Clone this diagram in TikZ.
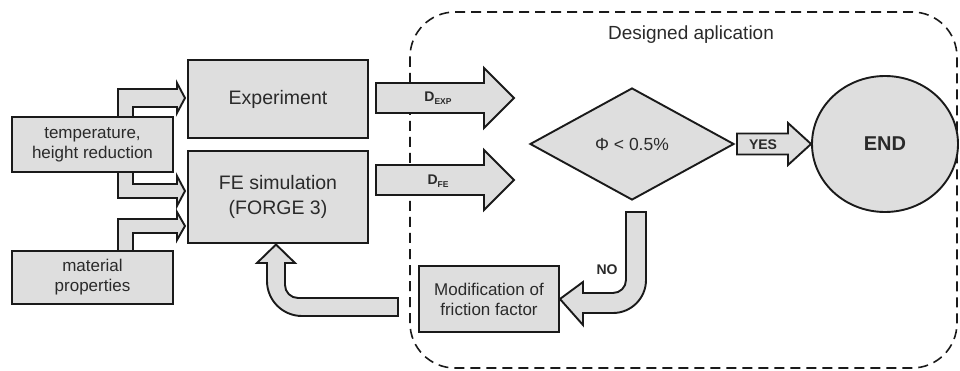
\documentclass[tikz,border=0pt]{standalone}
\usepackage{fontspec}
\setmainfont{Liberation Sans}
\usetikzlibrary{shapes.geometric}
\pgfdeclarelayer{back}
\pgfsetlayers{back,main}
\definecolor{boxgray}{HTML}{DEDEDE}
\definecolor{txtgray}{HTML}{2A2A2A}
\definecolor{linegray}{HTML}{1A1A1A}
\begin{document}
\begin{tikzpicture}[x=1pt,y=-1pt,
	every node/.style={text=txtgray,align=center,inner sep=0pt},
	box/.style={rectangle,draw=linegray,fill=boxgray,line width=1.9pt},
	decision/.style={diamond,draw=linegray,fill=boxgray,line width=1.9pt},
	endnode/.style={ellipse,draw=linegray,fill=boxgray,line width=1.9pt},
	fatarrow/.style={draw=linegray,fill=boxgray,line width=1.9pt,line join=miter},
	small/.style={font=\fontsize{17}{20}\selectfont},
	big/.style={font=\fontsize{19.5}{25}\selectfont},
	tag/.style={font=\fontsize{14}{14}\selectfont\bfseries}]
\useasboundingbox (0,0) rectangle (960,371);

% inputs
\node[box,small,minimum width=161pt,minimum height=55pt] (temp) at (92.5,144.5) {temperature,\\height reduction};
\node[box,small,minimum width=161pt,minimum height=53pt] (mat) at (92.5,277.5) {material\\properties};
% experiment and simulation
\node[box,big,minimum width=180pt,minimum height=78pt] (exp) at (278,99) {Experiment};
\node[box,big,minimum width=180pt,minimum height=92pt] (fe) at (278,197) {FE simulation\\(FORGE 3)};
% designed application
\node[font=\fontsize{19}{22}\selectfont,anchor=base] (title) at (691,40) {Designed aplication};
\node[decision,font=\fontsize{17.5}{20}\selectfont,minimum width=204pt,minimum height=112pt] (dia) at (632,144) {Φ < 0.5\%};
\node[endnode,font=\fontsize{20}{22}\selectfont\bfseries,minimum width=146pt,minimum height=136pt] (endc) at (885,144) {END};
\node[box,small,minimum width=140pt,minimum height=66pt] (mod) at (489,299) {Modification of\\friction factor};

\begin{pgfonlayer}{back}
% frame
\draw[linegray,line width=1.6pt,dash pattern=on 10pt off 6pt,rounded corners=45pt] (410,12) rectangle (957,368);
% inputs to experiment and simulation
\filldraw[fatarrow] (temp.north -| 118,0) -- (118,89) -- (177,89) -- (177,83) -- (185,98) -- (177,113) -- (177,107) -- (133,107) -- (temp.north -| 133,0);
\filldraw[fatarrow] (temp.south -| 118,0) -- (118,198) -- (177,198) -- (177,206) -- (185,191) -- (177,176) -- (177,184) -- (133,184) -- (temp.south -| 133,0);
\filldraw[fatarrow] (mat.north -| 118,0) -- (118,219) -- (177,219) -- (177,212) -- (185,226) -- (177,240) -- (177,233) -- (133,233) -- (mat.north -| 133,0);
\end{pgfonlayer}

% results to the check
\draw[fatarrow] (376,83) -- (484,83) -- (484,68) -- (514,98) -- (484,128) -- (484,113) -- (376,113) -- cycle;
\node[tag] (dexp) at (438,98) {D\raisebox{-3.5pt}{\fontsize{8.5}{9}\selectfont EXP}};
\draw[fatarrow] (376,165) -- (484,165) -- (484,150) -- (514,180) -- (484,210) -- (484,195) -- (376,195) -- cycle;
\node[tag] (dfe) at (438,181) {D\raisebox{-3.5pt}{\fontsize{8.5}{9}\selectfont FE}};
% yes
\draw[fatarrow] (737,133.5) -- (788,133.5) -- (788,123) -- (endc.west) -- (788,165) -- (788,154.5) -- (737,154.5) -- cycle;
\node[tag] (yes) at (763,144.5) {YES};
% no
\draw[fatarrow] (626,212) -- (646,212) -- (646,280) arc[start angle=0,end angle=90,radius=33] -- (583,313) -- (583,325) -- (mod.east) -- (583,282) -- (583,293) -- (613,293) arc[start angle=90,end angle=0,radius=13] -- cycle;
\node[tag] (no) at (607,270) {NO};
% back to the simulation
\draw[fatarrow] (398,298) -- (298,298) arc[start angle=90,end angle=180,radius=13] -- (285,263) -- (295,263) -- (276,244.5) -- (257,263) -- (267,263) -- (267,281) arc[start angle=180,end angle=90,radius=35] -- (398,316) -- cycle;
\end{tikzpicture}
\end{document}
